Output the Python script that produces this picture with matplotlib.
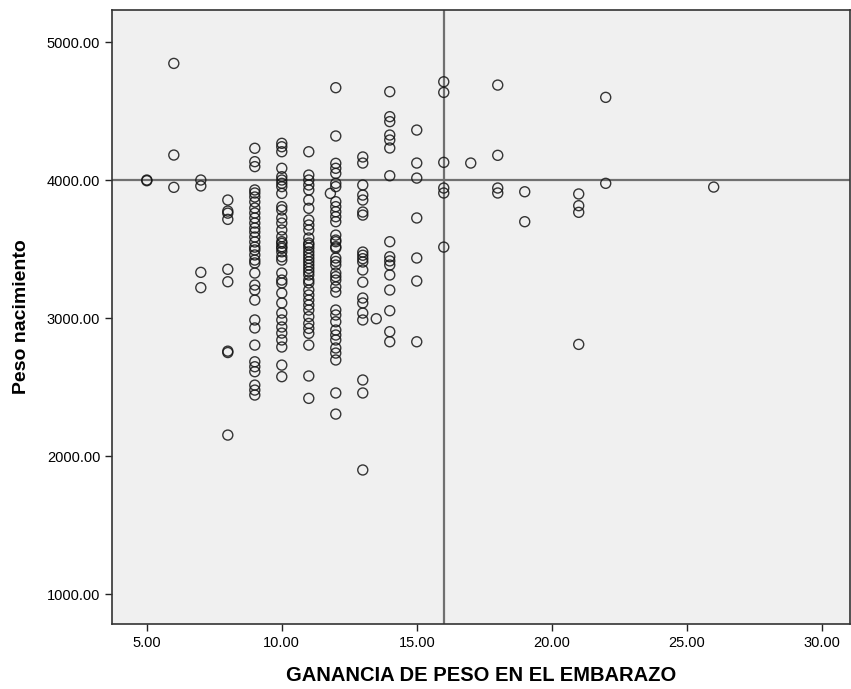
import matplotlib
matplotlib.use("Agg")
import matplotlib.pyplot as plt
from matplotlib.ticker import FormatStrFormatter

plt.rcParams['font.family'] = ['Liberation Sans', 'DejaVu Sans']

# birth weight readings grouped by weight gain value
weights_by_gain = {
    5: [4000, 3995],
    6: [4845, 4181, 3947],
    7: [4000, 3957, 3331, 3220],
    8: [3855, 3775, 3760, 3715, 3353, 3263, 2760, 2750, 2152],
    9: [4230, 4133, 4097, 3928, 3906, 3877, 3841, 3797, 3761, 3725, 3688,
        3652, 3623, 3587, 3551, 3514, 3493, 3457, 3420, 3399, 3326, 3239,
        3203, 3130, 2986, 2928, 2804, 2683, 2647, 2611, 2514, 2478, 2442],
    10: [4266, 4241, 4205, 4085, 4024, 4000, 3976, 3952, 3903, 3807, 3783,
         3725, 3688, 3638, 3589, 3541, 3505, 3553, 3517, 3480, 3444, 3420,
         3326, 3275, 3254, 3181, 3109, 3036, 2986, 2935, 2891, 2841, 2790,
         2659, 2575],
    11: [4205, 4036, 4000, 3964, 3928, 3855, 3795, 3710, 3674, 3638, 3580,
         3543, 3507, 3529, 3480, 3456, 3432, 3408, 3384, 3360, 3336, 3312,
         3275, 3254, 3203, 3167, 3130, 3094, 3058, 3010, 2961, 2925, 2889,
         2804, 2580, 2418],
    11.8: [3903],
    12: [4669, 4319, 4121, 4085, 4048, 3976, 3952, 3843, 3807, 3770, 3734,
         3698, 3601, 3553, 3517, 3565, 3507, 3435, 3410, 3384, 3326, 3300,
         3275, 3225, 3188, 3058, 3022, 2973, 2913, 2877, 2841, 2783, 2746,
         2696, 2457, 2304],
    13: [4167, 4123, 3964, 3891, 3855, 3768, 3746, 3478, 3455, 3430, 3406,
         3348, 3260, 3145, 3109, 3036, 2986, 2551, 2457, 1899],
    13.5: [2995],
    14: [4640, 4459, 4423, 4326, 4290, 4232, 4031, 3553, 3444, 3414, 3384,
         3312, 3203, 3053, 2901, 2828],
    15: [4362, 4123, 4014, 3725, 3435, 3268, 2828],
    16: [4712, 4635, 4128, 3942, 3906, 3514],
    17: [4123],
    18: [4688, 4179, 3942, 3906],
    19: [3915, 3698],
    21: [3899, 3814, 3766, 2809],
    22: [4599, 3976],
    26: [3949],
}

gain = [g for g, ws in weights_by_gain.items() for _ in ws]
weight = [w for ws in weights_by_gain.values() for w in ws]

ref_x = 16
ref_y = 4000
x_ticks = [5, 10, 15, 20, 25, 30]
y_ticks = [1000, 2000, 3000, 4000, 5000]

fig = plt.figure(figsize=(8.51, 6.89), dpi=100)
ax = fig.add_axes([112 / 851, 65 / 689, 738 / 851, 614 / 689])
ax.set_facecolor('#f0f0f0')

ax.axvline(ref_x, color='#707070', lw=1.6, zorder=1)
ax.axhline(ref_y, color='#707070', lw=1.6, zorder=1)
ax.scatter(gain, weight, s=52, facecolors='none', edgecolors=(0.08, 0.08, 0.08, 0.85),
           linewidths=1.0, zorder=2)

ax.set_xlim(3.71, 31.05)
ax.set_ylim(783, 5232)
ax.set_xticks(x_ticks)
ax.set_yticks(y_ticks)
ax.xaxis.set_major_formatter(FormatStrFormatter('%.2f'))
ax.yaxis.set_major_formatter(FormatStrFormatter('%.2f'))
ax.tick_params(direction='out', length=5, width=1, labelsize=10.5, color='#222222')

for side in ['top', 'right', 'left', 'bottom']:
    ax.spines[side].set_color('#333333')
    ax.spines[side].set_linewidth(1.2)

ax.set_xlabel('GANANCIA DE PESO EN EL EMBARAZO', fontsize=14.5, fontweight='bold', labelpad=12)
ax.set_ylabel('Peso nacimiento', fontsize=14, fontweight='bold', labelpad=12)

fig.savefig('out.png', dpi=100, facecolor='white')
